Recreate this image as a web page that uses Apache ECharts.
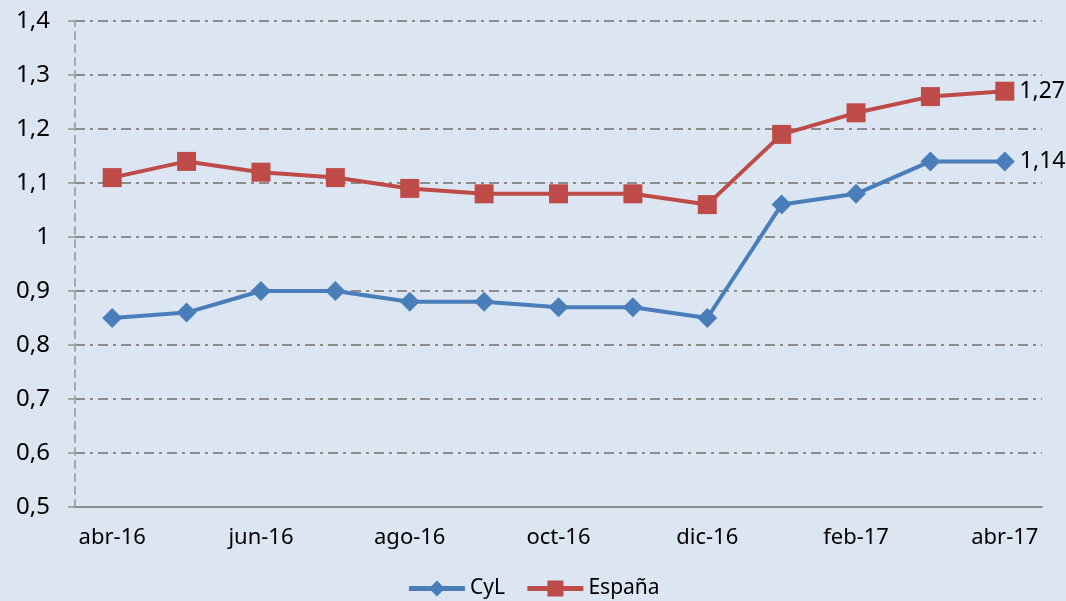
<!DOCTYPE html>
<html>
<head>
<meta charset="utf-8">
<script src="https://cdn.jsdelivr.net/npm/echarts@6/dist/echarts.min.js"></script>
<style>
html,body{margin:0;padding:0;background:#dce6f2;}
#c{width:1066px;height:601px;}
</style>
</head>
<body>
<div id="c"></div>
<script>
const categories = ['abr-16','may-16','jun-16','jul-16','ago-16','sep-16','oct-16','nov-16','dic-16','ene-17','feb-17','mar-17','abr-17'];
const cyl = [0.85,0.86,0.90,0.90,0.88,0.88,0.87,0.87,0.85,1.06,1.08,1.14,1.14];
const espana = [1.11,1.14,1.12,1.11,1.09,1.08,1.08,1.08,1.06,1.19,1.23,1.26,1.27];
const yTicks = {min:0.5, max:1.4, interval:0.1};

const font = 'Noto Sans';
const fs = 22;
const fmt = v => String(Math.round(v*100)/100).replace('.', ',');
function withEndLabel(arr){
  return arr.map((v,i)=> i===arr.length-1 ? {value:v, label:{show:true, position:'right', distance:5, formatter:p=>fmt(p.value), fontSize:23, color:'#000', fontFamily:font}} : v);
}
const chart = echarts.init(document.getElementById('c'));
chart.setOption({
  backgroundColor:'#dce6f2',
  animation:false,
  grid:{left:75, right:24, top:21, bottom:94},
  legend:{
    bottom:-3, itemWidth:56, itemHeight:20, itemGap:20,
    lineStyle:{width:5},
    textStyle:{fontSize:fs-1, color:'#000', fontFamily:font},
    data:['CyL','España']
  },
  xAxis:{
    type:'category', data:categories, boundaryGap:true,
    axisLine:{lineStyle:{color:'#8c8c8c', width:2}},
    axisTick:{interval:1, length:7, lineStyle:{color:'#8c8c8c', width:2}},
    axisLabel:{interval:1, margin:20, fontSize:fs, color:'#000', fontFamily:font},
    splitLine:{show:false}
  },
  yAxis:{
    type:'value', min:yTicks.min, max:yTicks.max, interval:yTicks.interval,
    axisLine:{show:true, lineStyle:{color:'#a6a6a6', width:2, type:[7,6]}},
    axisTick:{show:true, length:7, lineStyle:{color:'#a6a6a6', width:2}},
    axisLabel:{margin:25, fontSize:24, color:'#000', fontFamily:font, formatter:fmt},
    splitLine:{show:true, lineStyle:{color:'#8c8c8c', width:2, type:[10,5,3,5]}}
  },
  series:[
    {name:'CyL', type:'line', data:withEndLabel(cyl), color:'#4a7ebb',
     symbol:'diamond', symbolSize:20, lineStyle:{width:4, color:'#4a7ebb'},
     itemStyle:{color:'#4a7ebb'}},
    {name:'España', type:'line', data:withEndLabel(espana), color:'#be4b48',
     symbol:'rect', symbolSize:19, lineStyle:{width:4, color:'#be4b48'},
     itemStyle:{color:'#be4b48'}}
  ]
});
</script>
</body>
</html>
